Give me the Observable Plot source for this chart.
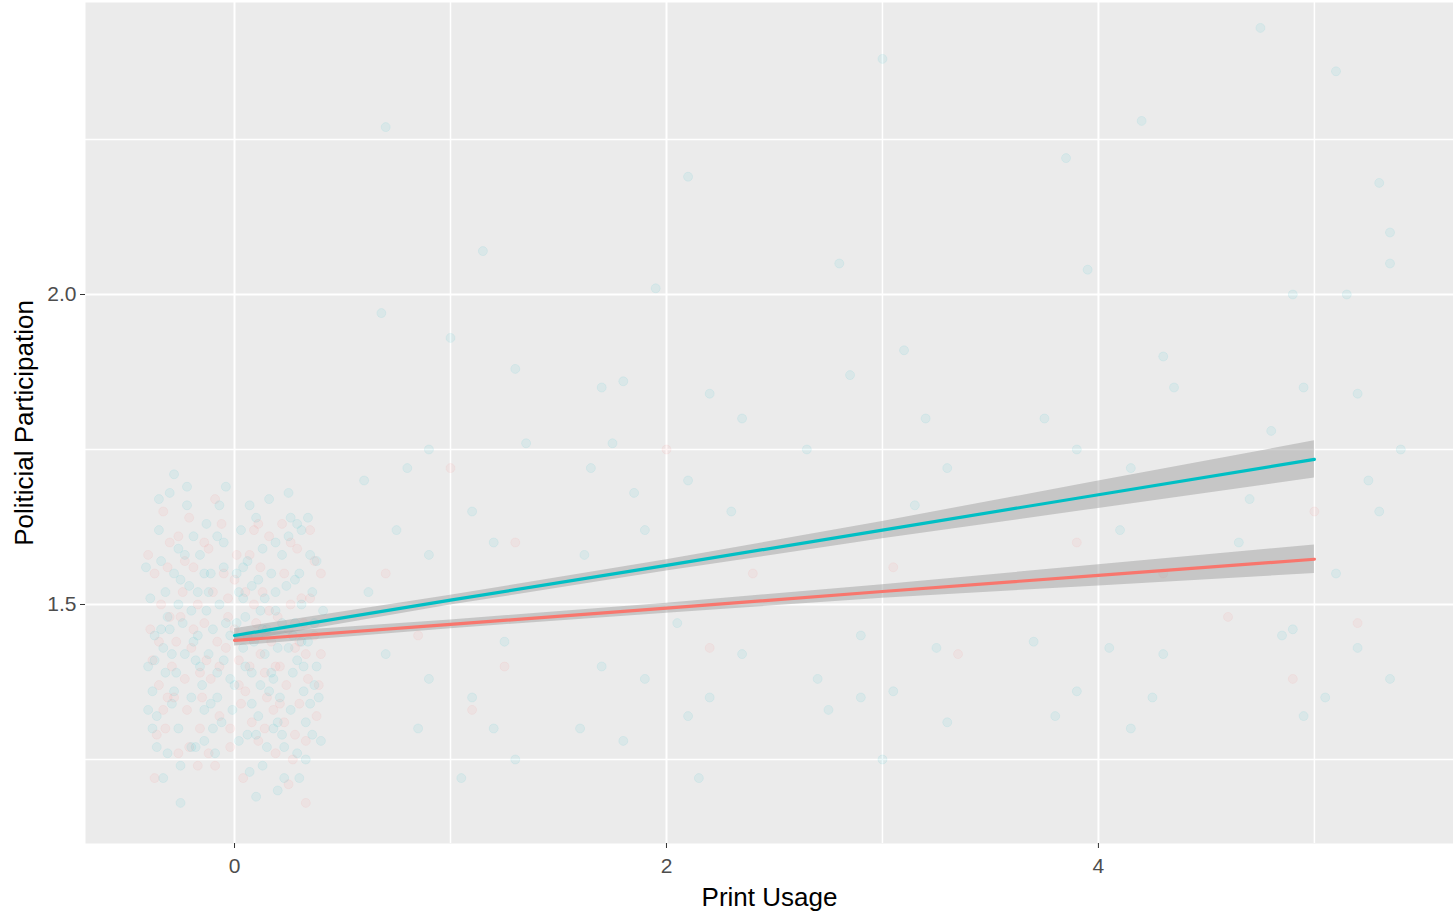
<!DOCTYPE html>
<html>
<head>
<meta charset="utf-8">
<script src="https://cdn.jsdelivr.net/npm/d3@7"></script>
<script src="https://cdn.jsdelivr.net/npm/@observablehq/plot@0.6"></script>
<style>
  html, body { margin: 0; padding: 0; background: #fff; }
  #chart { width: 1453px; height: 916px; }
  svg { font-family: "Liberation Sans", Arial, sans-serif; }
</style>
</head>
<body>
<div id="chart"></div>
<script>
// ---- data ----
const groups = ["A", "B"];
const groupColors = ["#F8766D", "#00BFC4"];

// jittered points, group B (teal)
const tealX = [-0.35,-0.28,-0.31,-0.22,-0.18,-0.12,-0.05,-0.38,-0.26,-0.14,-0.02,0.06,0.12,0.18,0.25,0.31,0.36,0.22,0.08,0.33,
  -0.33,-0.24,-0.16,-0.08,0.02,0.10,0.17,0.28,0.38,-0.36,-0.30,-0.20,-0.10,0.04,0.14,0.21,0.29,0.35,-0.27,-0.13,
  0.00,0.09,0.19,0.27,-0.39,-0.21,-0.06,0.15,0.32,0.24,-0.34,-0.17,0.05,0.13,0.37,-0.25,-0.09,0.07,0.23,-0.37,
  -0.29,-0.11,0.11,0.30,-0.19,-0.04,0.16,0.26,-0.32,-0.15,0.03,0.20,0.34,-0.23,-0.07,0.08,0.18,0.36,-0.40,-0.26,
  -0.01,0.12,0.27,-0.14,0.01,0.31,-0.30,-0.12,0.22,-0.36,0.06,0.29,-0.20,0.15,-0.05,0.39,-0.33,0.10,-0.28,0.25,
  0.33,-0.08,0.04,0.19,-0.18,0.13,-0.25,0.20,0.30,
  -0.41,-0.35,-0.29,-0.23,-0.17,-0.11,-0.05,0.01,0.07,0.13,0.19,0.25,0.31,0.37,0.41,
  -0.38,-0.32,-0.26,-0.20,-0.14,-0.08,-0.02,0.04,0.10,0.16,0.22,0.28,0.34,0.40,
  -0.40,-0.34,-0.28,-0.22,-0.16,-0.10,-0.04,0.02,0.08,0.14,0.20,0.26,0.32,0.38,
  -0.37,-0.31,-0.19,-0.07,0.05,0.17,0.29,-0.25,-0.13,0.11,0.23,0.35,
  0.70,0.68,1.15,1.00,1.30,0.90,0.80,1.10,0.60,0.75,1.20,0.90,0.70,0.90,1.10,1.20,0.85,1.30,1.05,1.25,0.62,1.35,
  1.70,1.80,1.95,2.10,1.75,2.20,2.35,1.65,1.85,2.10,1.90,2.30,1.70,1.90,2.20,2.35,1.60,2.10,1.80,2.15,2.05,1.62,
  3.00,2.80,3.10,2.85,3.20,2.65,3.30,2.90,3.25,2.70,3.05,3.30,2.75,3.00,2.90,3.15,
  4.20,3.85,3.95,4.30,3.75,4.35,3.90,4.15,3.70,4.05,4.30,3.90,4.25,4.15,3.80,4.10,
  4.75,5.10,5.30,5.35,4.90,5.15,5.35,4.80,4.95,5.20,5.40,4.70,5.30,5.10,4.85,5.20,4.95,5.05,5.35,4.90,4.65,5.25];
const tealY = [1.62,1.55,1.48,1.66,1.41,1.52,1.60,1.36,1.30,1.33,1.45,1.57,1.49,1.38,1.61,1.44,1.52,1.29,1.34,1.31,
  1.43,1.47,1.58,1.39,1.28,1.64,1.55,1.47,1.40,1.27,1.68,1.35,1.46,1.51,1.42,1.35,1.26,1.58,1.39,1.63,
  1.37,1.44,1.49,1.39,1.51,1.53,1.31,1.27,1.36,1.53,1.57,1.45,1.40,1.59,1.47,1.24,1.26,1.23,1.22,1.45,
  1.34,1.55,1.32,1.55,1.61,1.69,1.67,1.33,1.52,1.37,1.62,1.43,1.64,1.42,1.50,1.53,1.30,1.29,1.40,1.59,
  1.33,1.37,1.45,1.28,1.47,1.50,1.46,1.42,1.58,1.32,1.29,1.41,1.49,1.46,1.56,1.35,1.22,1.19,1.71,1.68,
  1.25,1.35,1.43,1.52,1.27,1.24,1.18,1.20,1.22,
  1.56,1.67,1.42,1.58,1.52,1.34,1.41,1.55,1.66,1.46,1.60,1.43,1.62,1.37,1.49,
  1.30,1.39,1.50,1.27,1.55,1.61,1.38,1.56,1.29,1.36,1.47,1.54,1.44,1.28,
  1.33,1.46,1.36,1.69,1.40,1.30,1.47,1.52,1.39,1.51,1.31,1.64,1.40,1.57,
  1.41,1.26,1.44,1.66,1.48,1.39,1.63,1.54,1.49,1.54,1.27,1.34,
  2.27,1.97,2.07,1.93,1.88,1.75,1.72,1.65,1.70,1.62,1.60,1.58,1.42,1.38,1.35,1.30,1.30,1.25,1.22,1.44,1.52,1.76,
  1.85,1.86,2.01,2.19,1.76,1.84,1.80,1.72,1.68,1.70,1.62,1.65,1.40,1.38,1.35,1.42,1.30,1.32,1.28,1.22,1.47,1.58,
  2.38,2.05,1.91,1.87,1.80,1.75,1.72,1.45,1.43,1.38,1.36,1.31,1.33,1.25,1.35,1.66,
  2.28,2.22,2.04,1.90,1.80,1.85,1.75,1.72,1.44,1.43,1.42,1.36,1.35,1.30,1.32,1.62,
  2.43,2.36,2.18,2.10,2.00,2.00,2.05,1.78,1.85,1.84,1.75,1.67,1.65,1.55,1.45,1.43,1.32,1.35,1.38,1.46,1.60,1.70];

// jittered points, group A (red)
const redX = [-0.34,-0.27,-0.19,-0.11,-0.03,0.05,0.13,0.21,0.29,0.37,-0.38,-0.30,-0.22,-0.14,-0.06,0.02,0.10,0.18,0.26,0.34,
  -0.36,-0.24,-0.16,-0.08,0.00,0.08,0.16,0.24,0.32,0.40,-0.31,-0.21,-0.13,-0.02,0.07,0.17,0.28,0.35,-0.37,-0.26,
  -0.10,0.03,0.14,0.23,0.33,-0.29,-0.17,-0.07,0.11,0.20,0.30,-0.39,-0.23,-0.04,0.09,0.27,0.38,-0.33,-0.12,0.06,
  0.19,-0.20,0.01,0.22,-0.35,-0.15,0.12,0.31,-0.25,0.04,0.25,-0.09,0.33,-0.32,0.15,
  -0.40,-0.33,-0.26,-0.19,-0.12,-0.05,0.02,0.09,0.16,0.23,0.30,0.37,
  -0.37,-0.30,-0.23,-0.16,-0.09,-0.02,0.05,0.12,0.19,0.26,0.33,0.40,
  -0.35,-0.28,-0.21,-0.14,-0.07,0.00,0.07,0.14,0.21,0.28,0.35,
  -0.31,-0.17,-0.03,0.11,0.25,0.39,
  1.00,0.85,1.25,2.00,2.20,3.05,3.35,4.30,4.90,5.20,5.00,0.70,1.30,2.40,3.90,1.10,4.60];
const redY = [1.50,1.44,1.56,1.38,1.48,1.36,1.52,1.40,1.59,1.45,1.41,1.60,1.33,1.47,1.63,1.41,1.47,1.33,1.50,1.38,
  1.29,1.52,1.30,1.44,1.54,1.31,1.61,1.37,1.47,1.55,1.35,1.64,1.41,1.27,1.58,1.44,1.29,1.62,1.55,1.26,
  1.52,1.34,1.39,1.55,1.42,1.40,1.50,1.32,1.28,1.48,1.34,1.46,1.38,1.43,1.50,1.25,1.32,1.65,1.59,1.45,
  1.26,1.43,1.58,1.63,1.37,1.35,1.42,1.51,1.48,1.22,1.21,1.24,1.18,1.30,1.35,
  1.58,1.33,1.61,1.46,1.26,1.55,1.37,1.62,1.49,1.31,1.44,1.57,
  1.22,1.48,1.57,1.39,1.67,1.30,1.52,1.56,1.40,1.60,1.28,1.42,
  1.44,1.35,1.27,1.60,1.40,1.46,1.40,1.30,1.34,1.43,1.51,
  1.56,1.24,1.51,1.63,1.46,1.37,
  1.72,1.45,1.40,1.75,1.43,1.56,1.42,1.55,1.38,1.47,1.65,1.55,1.60,1.55,1.60,1.33,1.48];

// fitted lines with confidence bands
const fitX = [0, 1, 2, 3, 4, 5];
const tealFit = [1.450, 1.507, 1.563, 1.620, 1.677, 1.734];
const tealSe  = [0.011, 0.008, 0.009, 0.014, 0.022, 0.030];
const redFit  = [1.442, 1.468, 1.494, 1.521, 1.547, 1.573];
const redSe   = [0.009, 0.007, 0.008, 0.011, 0.017, 0.023];

const xTicks = [0, 2, 4];
const xMinor = [1, 3, 5];
const yTicks = [1.5, 2.0];
const yMinor = [1.25, 1.75, 2.25];
const xTitle = "Print Usage";
const yTitle = "Politicial Participation";

// ---- build tables ----
const points = [
  ...redX.map((x, i) => ({x, y: redY[i], g: "A"})),
  ...tealX.map((x, i) => ({x, y: tealY[i], g: "B"}))
];
const fits = [
  ...fitX.map((x, i) => ({x, y: redFit[i], lo: redFit[i] - redSe[i], hi: redFit[i] + redSe[i], g: "A"})),
  ...fitX.map((x, i) => ({x, y: tealFit[i], lo: tealFit[i] - tealSe[i], hi: tealFit[i] + tealSe[i], g: "B"}))
];

const chart = Plot.plot({
  width: 1453,
  height: 916,
  marginLeft: 85,
  marginRight: 0,
  marginTop: 2,
  marginBottom: 73,
  style: {fontFamily: "'Liberation Sans', Arial, sans-serif", background: "#fff"},
  x: {domain: [-0.69, 5.644]},
  y: {domain: [1.1145, 2.471]},
  color: {domain: groups, range: groupColors},
  marks: [
    Plot.frame({fill: "#EBEBEB", stroke: null}),
    Plot.ruleX(xMinor, {stroke: "#fff", strokeWidth: 1.5}),
    Plot.ruleY(yMinor, {stroke: "#fff", strokeWidth: 1.5}),
    Plot.ruleX(xTicks, {stroke: "#fff", strokeWidth: 2}),
    Plot.ruleY(yTicks, {stroke: "#fff", strokeWidth: 2}),
    Plot.dot(points, {x: "x", y: "y", fill: "g", r: 4.5, fillOpacity: 0.07, stroke: "g", strokeOpacity: 0.07, strokeWidth: 1}),
    Plot.areaY(fits, {x: "x", y1: "lo", y2: "hi", z: "g", fill: "#999999", fillOpacity: 0.45}),
    Plot.line(fits, {x: "x", y: "y", stroke: "g", strokeWidth: 3.2}),
    Plot.axisX(xTicks, {tickSize: 5, tickPadding: 10, fontSize: 21, color: "#4D4D4D", stroke: "#333", label: null, tickFormat: d3.format("d")}),
    Plot.axisY(yTicks, {tickSize: 5, tickPadding: 4, fontSize: 21, color: "#4D4D4D", stroke: "#333", label: null, tickFormat: d3.format(".1f")}),
    Plot.text([xTitle], {text: d => d, frameAnchor: "bottom", dy: 62, fontSize: 26, fill: "#000"}),
    Plot.text([yTitle], {text: d => d, frameAnchor: "left", dx: -61, rotate: -90, textAnchor: "middle", fontSize: 26, fill: "#000"})
  ]
});
document.getElementById("chart").appendChild(chart);
</script>
</body>
</html>
